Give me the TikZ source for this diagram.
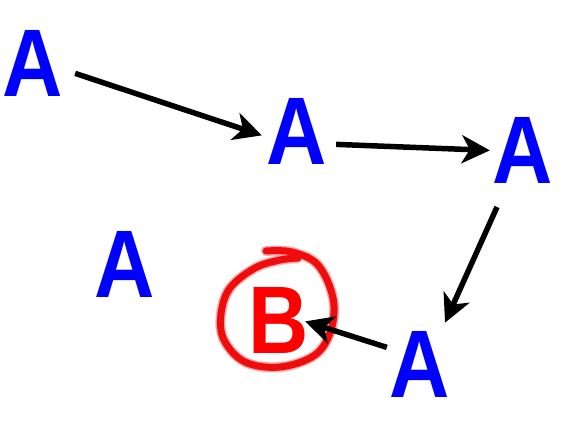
\documentclass[tikz,border=0pt]{standalone}
\usepackage{fontspec}
\newfontfamily\labfont{Liberation Sans}[FakeStretch=0.87]
\usetikzlibrary{arrows.meta}
\definecolor{ablue}{RGB}{0,0,255}
\definecolor{bred}{RGB}{255,0,0}
\definecolor{ring}{RGB}{238,12,12}
\begin{document}
\begin{tikzpicture}[x=1pt,y=-1pt,
  lab/.style={font=\labfont\bfseries\fontsize{96}{96}\selectfont, inner sep=0pt, outer sep=0pt, anchor=base},
  alab/.style={lab, text=ablue},
  blab/.style={lab, text=bred},
  arr/.style={draw=black, line width=5.5pt, -{Stealth[length=28pt,width=28pt,inset=8pt]}},
  ringline/.style={draw=ring, line width=7pt, line cap=round, line join=round}]
\useasboundingbox (0,0) rectangle (572,431);
\fill[white] (0,0) rectangle (572,431);
% letters
\node[alab] (A1) at (33,96) {A};
\node[alab] (A2) at (297,164) {A};
\node[alab] (A3) at (523,183) {A};
\node[alab] (A4) at (125,297) {A};
\node[alab] (A5) at (420,397) {A};
\node[blab] (B) at (279,353) {B};
% hand-drawn ring round B
\draw[draw=ring!35, line width=10pt, line cap=round] plot[smooth, tension=0.6] coordinates {
  (266,251) (292,252) (318,265) (333,298) (331,330) (315,355) (280,367)
  (245,362) (224,340) (221,314) (230,288) (255,268) (280,260) (298,258)};
\draw[ringline] plot[smooth, tension=0.6] coordinates {
  (266,251) (292,252) (318,265) (333,298) (331,330) (315,355) (280,367)
  (245,362) (224,340) (221,314) (230,288) (255,268) (280,260) (298,258)};
% connectors
\draw[arr] ([shift={(12,10.4)}]A1.east) -- ([shift={(-5,4.4)}]A2.west);
\draw[arr] ([shift={(9,13.4)}]A2.east) -- ([shift={(-3,0.4)}]A3.west);
\draw[arr] ([shift={(-26,24)}]A3.south) -- ([shift={(25,-8.3)}]A5.north);
\draw[arr] ([shift={(-3,-16.6)}]A5.west) -- ([shift={(-4,1.4)}]B.east);
\end{tikzpicture}
\end{document}
